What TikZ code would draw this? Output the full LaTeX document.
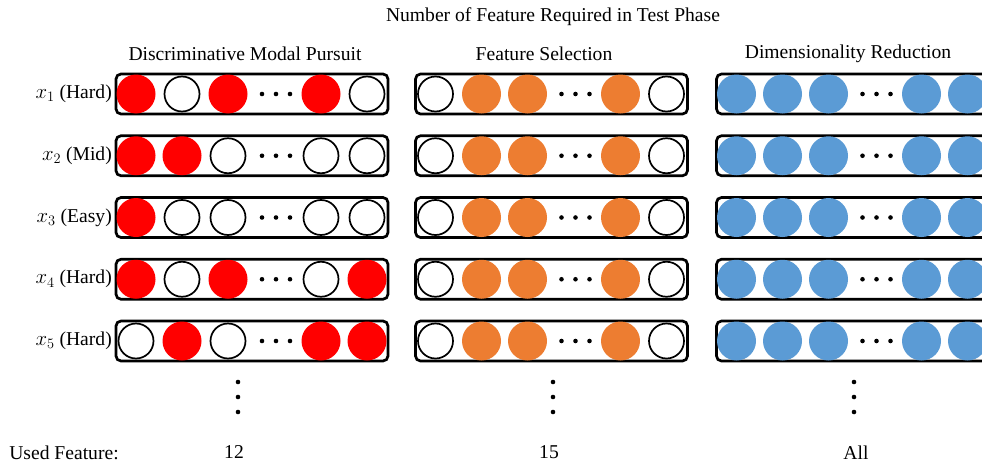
\documentclass[tikz,border=0pt]{standalone}
\usepackage{fontspec}
\setmainfont{Liberation Serif}
\definecolor{dmpred}{HTML}{FF0000}
\definecolor{fsorange}{HTML}{ED7D31}
\definecolor{drblue}{HTML}{5B9BD5}
\begin{document}
\begin{tikzpicture}[x=1pt,y=-1pt,
  featbox/.style={draw, line width=2.7pt, rounded corners=5pt, minimum width=272pt, minimum height=40pt, inner sep=0pt},
  ew/.style={circle, draw, line width=1.7pt, fill=white, minimum size=35pt, inner sep=0pt},
  fr/.style={circle, fill=dmpred, minimum size=39pt, inner sep=0pt},
  fo/.style={circle, fill=fsorange, minimum size=39pt, inner sep=0pt},
  fb/.style={circle, fill=drblue, minimum size=39pt, inner sep=0pt},
  dotn/.style={circle, fill=black, minimum size=4.6pt, inner sep=0pt},
  lab/.style={font=\fontsize{19.6}{22}\selectfont, inner sep=0pt}
]
\useasboundingbox (0,0) rectangle (982,463);
\clip (0,0) rectangle (982,463);
\node[lab] (title) at (553,17) {Number of Feature Required in Test Phase};
\node[lab] (t1) at (245,54) {Discriminative Modal Pursuit};
\node[lab] (t2) at (544,54) {Feature Selection};
\node[lab] (t3) at (848,54) {Dimensionality Reduction};
\foreach \r/\y/\lbl/\pat in {
  1/94/{$x_1$ (Hard)}/{fr,ew,fr,fr,ew},
  2/155.75/{$x_2$ (Mid)}/{fr,fr,ew,ew,ew},
  3/217.5/{$x_3$ (Easy)}/{fr,ew,ew,ew,ew},
  4/279.25/{$x_4$ (Hard)}/{fr,ew,fr,ew,fr},
  5/341/{$x_5$ (Hard)}/{ew,fr,ew,fr,fr}} {
  \node[lab, anchor=east] (l\r) at (112,\y) {\lbl};
  % column 1: Discriminative Modal Pursuit
  \node[featbox] (ba\r) at (252,\y) {};
  \foreach \k [count=\i] in \pat {
    \pgfmathsetmacro{\xo}{{20,66,112,205,251}[\i-1]}
    \node[\k] (ca\r\i) at (116+\xo,\y) {};
  }
  \foreach \d in {146,160,174} \node[dotn] (da\r\d) at (116+\d,\y) {};
  % column 2: Feature Selection
  \node[featbox] (bb\r) at (551.5,\y) {};
  \foreach \k [count=\i] in {ew,fo,fo,fo,ew} {
    \pgfmathsetmacro{\xo}{{20,66,112,205,251}[\i-1]}
    \node[\k] (cb\r\i) at (415.5+\xo,\y) {};
  }
  \foreach \d in {146,160,174} \node[dotn] (db\r\d) at (415.5+\d,\y) {};
  % column 3: Dimensionality Reduction
  \node[featbox] (bc\r) at (852.5,\y) {};
  \foreach \k [count=\i] in {fb,fb,fb,fb,fb} {
    \pgfmathsetmacro{\xo}{{20,66,112,205,251}[\i-1]}
    \node[\k] (cc\r\i) at (716.5+\xo,\y) {};
  }
  \foreach \d in {146,160,174} \node[dotn] (dc\r\d) at (716.5+\d,\y) {};
}
% vertical ellipses
\foreach \c/\x in {a/238,b/553,c/854}
  \foreach \v/\yy in {1/382,2/397,3/412}
    \node[dotn] (v\c\v) at (\x,\yy) {};
\node[lab] (used) at (64,453) {Used Feature:};
\node[lab] (n1) at (234,452) {12};
\node[lab] (n2) at (549,452) {15};
\node[lab] (n3) at (856,453) {All};
\end{tikzpicture}
\end{document}
